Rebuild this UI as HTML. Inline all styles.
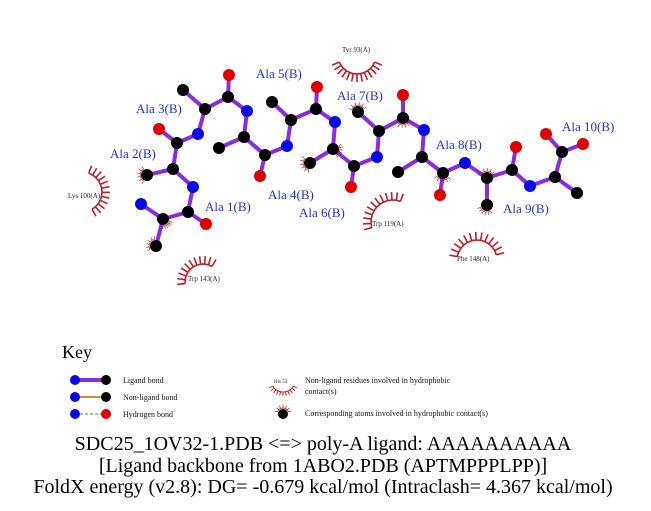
<!DOCTYPE html>
<html><head><meta charset="utf-8"><style>
body{margin:0;background:#fff;width:651px;height:511px;overflow:hidden}
svg{display:block}
</style></head><body>
<svg id="s" width="651" height="511" xmlns="http://www.w3.org/2000/svg" font-family="Liberation Serif, serif">
<g id="bonds" stroke="#8a2be2" stroke-width="4" stroke-linecap="round"></g>
<g id="arcs" fill="none" stroke="#b8202a" stroke-width="1.6"></g>
<g id="atoms"></g>
<g fill="#2233cc" font-size="13">
<text x="256" y="78">Ala 5(B)</text>
<text x="136" y="113">Ala 3(B)</text>
<text x="110" y="158">Ala 2(B)</text>
<text x="205" y="211">Ala 1(B)</text>
<text x="268" y="199">Ala 4(B)</text>
<text x="299" y="217">Ala 6(B)</text>
<text x="337" y="100">Ala 7(B)</text>
<text x="436" y="149">Ala 8(B)</text>
<text x="503" y="213">Ala 9(B)</text>
<text x="562" y="131">Ala 10(B)</text>
</g>
<g fill="#222" font-size="7">
<text x="342" y="52">Tyr 93(A)</text>
<text x="68" y="198">Lys 100(A)</text>
<text x="188" y="281">Trp 143(A)</text>
<text x="372" y="226">Trp 119(A)</text>
<text x="457" y="261">Phe 148(A)</text>
</g>
<text x="62" y="358" font-size="18">Key</text>
<line x1="75" y1="380" x2="106" y2="380" stroke="#8a2be2" stroke-width="4"/>
<line x1="75" y1="397" x2="106" y2="397" stroke="#c8902f" stroke-width="2"/>
<line x1="75" y1="414" x2="106" y2="414" stroke="#2a9a2a" stroke-width="1" stroke-dasharray="3,2"/>
<circle cx="75" cy="380" r="5" fill="#0a0ae6"/><circle cx="106" cy="380" r="5" fill="#000"/>
<circle cx="75" cy="397" r="5" fill="#0a0ae6"/><circle cx="106" cy="397" r="5" fill="#000"/>
<circle cx="75" cy="414" r="5" fill="#0a0ae6"/><circle cx="106" cy="414" r="5" fill="#e00000"/>
<g font-size="8" fill="#111">
<text x="123" y="383">Ligand bond</text>
<text x="123" y="400">Non-ligand bond</text>
<text x="123" y="417">Hydrogen bond</text>
<text x="305" y="383">Non-ligand residues involved in hydrophobic</text>
<text x="305" y="394">contact(s)</text>
<text x="305" y="416">Corresponding atoms involved in hydrophobic contact(s)</text>
<text x="274" y="383" font-size="5">His 53</text>
</g>
<circle cx="283" cy="414" r="5" fill="#000"/>
<g font-size="20" fill="#000" text-anchor="middle">
<text x="323" y="450">SDC25_1OV32-1.PDB &lt;=&gt; poly-A ligand: AAAAAAAAAA</text>
<text x="323" y="472">[Ligand backbone from 1ABO2.PDB (APTMPPPLPP)]</text>
<text x="323" y="493">FoldX energy (v2.8): DG= -0.679 kcal/mol (Intraclash= 4.367 kcal/mol)</text>
</g>
</svg>
<script>
var A={
N1:[141,204,'N'],CA1:[163,219],CB1:[156,246],C1:[188,212],O1:[206,224,'O'],
N2:[193,187,'N'],CA2:[173,169],CB2:[147,175],C2:[177,143],O2:[159,129,'O'],
N3:[198,134,'N'],CA3:[205,109],CB3:[183,90],C3:[228,97],O3:[229,75,'O'],
N4:[247,111,'N'],CA4:[244,137],CB4:[219,148],C4:[265,155],O4:[260,176,'O'],
N5:[287,146,'N'],CA5:[291,120],CB5:[272,102],C5:[316,109],O5:[317,87,'O'],
N6:[335,122,'N'],CA6:[333,149],CB6:[310,163],C6:[354,166],O6:[351,187,'O'],
N7:[377,157,'N'],CA7:[379,131],CB7:[358,112],C7:[403,118],O7:[403,95,'O'],
N8:[424,130,'N'],CA8:[422,157],CB8:[398,172],C8:[443,173],O8:[440,195,'O'],
N9:[465,163,'N'],CA9:[487,178],CB9:[487,205],C9:[512,170],O9:[516,147,'O'],
N10:[530,186,'N'],CA10:[555,177],CB10:[577,193],C10:[562,152],O10:[546,134,'O'],OX:[583,144,'O']};
var B=[];
for(var i=1;i<=10;i++){B.push(['N'+i,'CA'+i],['CA'+i,'CB'+i],['CA'+i,'C'+i],['C'+i,'O'+i]);if(i<10)B.push(['C'+i,'N'+(i+1)]);}
B.push(['C10','OX']);
var ns='http://www.w3.org/2000/svg';
function el(t,a,p){var e=document.createElementNS(ns,t);for(var k in a)e.setAttribute(k,a[k]);document.getElementById(p).appendChild(e);return e;}
B.forEach(function(b){var p=A[b[0]],q=A[b[1]];el('line',{x1:p[0],y1:p[1],x2:q[0],y2:q[1]},'bonds');});
for(var k in A){var a=A[k];el('circle',{cx:a[0],cy:a[1],r:6,fill:a[2]=='N'?'#0a0ae6':a[2]=='O'?'#e00000':'#000'},'atoms');}
function arc(cx,cy,r,a0,a1,n,L,w){var d='';for(var i=0;i<=n;i++){var t=(a0+(a1-a0)*i/n)*Math.PI/180,c=Math.cos(t),s=Math.sin(t);
d+=(i?'L':'M')+(cx+r*c).toFixed(1)+' '+(cy+r*s).toFixed(1);}
el('path',{d:d,'stroke-width':w||1.6},'arcs');
for(var i=0;i<=n;i++){var t=(a0+(a1-a0)*i/n)*Math.PI/180,c=Math.cos(t),s=Math.sin(t);
el('line',{x1:cx+r*c,y1:cy+r*s,x2:cx+(r+L)*c,y2:cy+(r+L)*s,'stroke-width':w||1.6},'arcs');}}
arc(357,55,19,22,158,12,8);
arc(82,192,20,-70,60,11,8);
arc(203,282,18,175,300,10,8);
arc(393,222,22,165,290,11,8);
arc(477,260,20,190,345,12,8);
arc(283,380,12,30,150,10,4,1);
arc(283,414,6,200,340,6,3,0.8);
var sm=[[156,246,150,260],[163,219,20,90],[147,175,120,240],[310,163,100,220],[333,149,-30,60],[358,112,200,330],[403,118,30,140],[443,173,40,150],[487,178,200,320],[487,205,60,160]];
sm.forEach(function(s){arc(s[0],s[1],7,s[2],s[3],5,3,0.7);});
</script>
</body></html>
